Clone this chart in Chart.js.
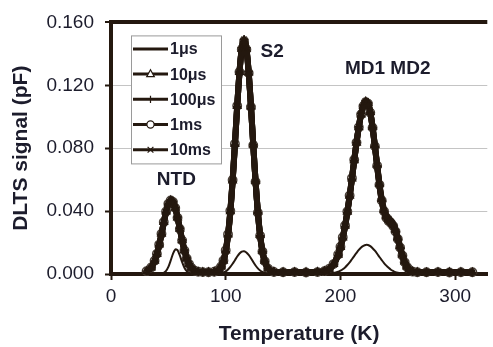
<!DOCTYPE html>
<html>
<head>
<meta charset="utf-8">
<script src="https://cdn.jsdelivr.net/npm/chart.js@4/dist/chart.umd.min.js"></script>
<style>
  html, body { margin: 0; padding: 0; background: #ffffff; }
  #wrap { position: relative; width: 493px; height: 347px; }
</style>
</head>
<body>
<div id="wrap"><canvas id="c"></canvas></div>
<script>
// ---- data ----
const temps = [31,35,38,40,42,44,46,48,50,52,54,56,58,60,62,64,66,68,70,73,76,80,85,90,94,96,98,100,102,104,106,108,110,112,114,116,118,120,122,124,126,128,130,132,134,137,142,150,160,170,180,186,190,194,198,200,202,204,206,208,210,212,214,216,218,220,222,224,226,228,230,232,234,236,238,240,242,244,246,248,250,252,254,256,258,260,263,267,275,285,295,305,315];

const seriesNames = ["1\u03bcs", "10\u03bcs", "100\u03bcs", "1ms", "10ms"];

const s1us = [0,0,0,0,0,0,.0008,.0020,.0045,.0085,
  .0128,.0156,.0152,.0118,.0075,.0040,.0018,.0007,.0002,0,
  0,0,0,0,.0001,.0005,.0010,.0017,.0029,.0045,
  .0065,.0088,.0111,.0130,.0142,.0145,.0137,.0121,.0100,.0076,
  .0054,.0036,.0022,.0013,.0007,.0002,0,0,0,0,
  0,.0001,.0002,.0006,.0014,.0021,.0030,.0042,.0057,.0074,
  .0094,.0114,.0134,.0153,.0169,.0179,.0185,.0184,.0177,.0164,
  .0148,.0129,.0108,.0088,.0069,.0053,.0039,.0027,.0019,.0012,
  .0008,.0005,.0003,.0002,.0001,0,0,0,0,0,
  0,0,0];

const s10us = [.0017,.0041,.0083,.0127,.0186,.0255,.0329,.0396,.0447,.0468,
  .0459,.0420,.0358,.0287,.0214,.0150,.0100,.0063,.0039,.0020,
  .0013,.0011,.0012,.0014,.0027,.0047,.0084,.0148,.0250,.0398,
  .0594,.0826,.1068,.1283,.1432,.1484,.1431,.1281,.1065,.0823,
  .0592,.0397,.0249,.0147,.0083,.0035,.0014,.0011,.0012,.0011,
  .0013,.0018,.0031,.0062,.0122,.0170,.0231,.0306,.0395,.0496,
  .0607,.0723,.0834,.0932,.1014,.1068,.1095,.1086,.1030,.0936,
  .0820,.0695,.0575,.0478,.0410,.0371,.0350,.0338,.0318,.0283,
  .0233,.0177,.0123,.0079,.0047,.0028,.0015,.0011,.0010,.0012,
  .0011,.0011,.0010];

const s100us = [.0019,.0039,.0080,.0124,.0181,.0250,.0324,.0392,.0444,.0470,
  .0462,.0425,.0363,.0291,.0218,.0153,.0102,.0065,.0041,.0021,
  .0014,.0011,.0011,.0013,.0025,.0044,.0079,.0142,.0242,.0390,
  .0586,.0819,.1064,.1285,.1438,.1493,.1438,.1287,.1068,.0823,
  .0588,.0391,.0243,.0142,.0080,.0033,.0013,.0010,.0011,.0010,
  .0012,.0016,.0029,.0059,.0118,.0166,.0226,.0300,.0389,.0490,
  .0603,.0721,.0836,.0937,.1021,.1075,.1100,.1089,.1029,.0930,
  .0811,.0683,.0561,.0462,.0393,.0352,.0331,.0319,.0299,.0265,
  .0217,.0163,.0113,.0071,.0042,.0025,.0014,.0011,.0010,.0011,
  .0010,.0011,.0010];

const s1ms = [.0018,.0042,.0084,.0128,.0187,.0256,.0330,.0397,.0446,.0467,
  .0458,.0419,.0357,.0286,.0213,.0150,.0099,.0063,.0039,.0021,
  .0014,.0012,.0011,.0014,.0028,.0048,.0086,.0151,.0253,.0402,
  .0598,.0829,.1070,.1284,.1430,.1480,.1428,.1278,.1062,.0819,
  .0586,.0390,.0243,.0143,.0081,.0034,.0013,.0011,.0012,.0010,
  .0012,.0018,.0032,.0063,.0124,.0173,.0234,.0309,.0398,.0499,
  .0610,.0726,.0837,.0934,.1015,.1067,.1092,.1083,.1026,.0930,
  .0813,.0688,.0567,.0468,.0399,.0358,.0337,.0325,.0305,.0271,
  .0222,.0168,.0117,.0074,.0044,.0027,.0015,.0011,.0011,.0012,
  .0010,.0011,.0011];

const s10ms = [.0018,.0040,.0081,.0125,.0183,.0252,.0326,.0394,.0445,.0469,
  .0461,.0423,.0361,.0289,.0216,.0152,.0101,.0064,.0040,.0021,
  .0014,.0011,.0011,.0013,.0026,.0045,.0081,.0144,.0245,.0393,
  .0589,.0822,.1066,.1284,.1435,.1490,.1435,.1284,.1066,.0822,
  .0589,.0393,.0245,.0144,.0081,.0034,.0013,.0010,.0012,.0010,
  .0012,.0017,.0030,.0060,.0120,.0168,.0228,.0303,.0392,.0493,
  .0605,.0722,.0835,.0935,.1018,.1072,.1098,.1088,.1030,.0933,
  .0815,.0688,.0566,.0466,.0396,.0355,.0334,.0322,.0302,.0268,
  .0220,.0166,.0115,.0073,.0043,.0026,.0014,.0011,.0010,.0012,
  .0010,.0011,.0010];

const xTickValues = [0, 100, 200, 300];
const yTickValues = [0, 0.04, 0.08, 0.12, 0.16];

const peakLabels = ["NTD", "S2", "MD1 MD2"];
const peakLabelT = [57, 140.4, 241.2];
const peakLabelY = [0.0602, 0.1414, 0.1305];

// ---- styling ----
const INK = '#24180f';
const TEXT = '#1c1c2c';
const FONT = '"Liberation Sans", Arial, Helvetica, sans-serif';
Chart.defaults.font.family = FONT;
Chart.defaults.color = TEXT;

const pointStyles = [false, 'triangle', 'cross', 'circle', 'crossRot'];
const allSeries = [s1us, s10us, s100us, s1ms, s10ms];

const datasets = allSeries.map((vals, k) => ({
  label: seriesNames[k],
  data: temps.map((t, i) => ({ x: t, y: vals[i] })),
  borderColor: INK,
  backgroundColor: 'rgba(0,0,0,0)',
  borderWidth: k === 0 ? 2 : 6,
  pointStyle: pointStyles[k],
  pointRadius: k === 0 ? 0 : 4.2,
  pointBorderWidth: 1.5,
  pointBorderColor: k === 3 ? '#4a4038' : INK,
  pointBackgroundColor: 'rgba(255,255,255,0)',
  tension: 0.25,
  fill: false,
  clip: false
}));

const annotationPlugin = {
  id: 'peakLabels',
  afterDatasetsDraw(chart) {
    const ctx = chart.ctx, xs = chart.scales.x, ys = chart.scales.y;
    ctx.save();
    ctx.font = 'bold 19px ' + FONT;
    ctx.fillStyle = TEXT;
    ctx.textAlign = 'center';
    ctx.textBaseline = 'middle';
    peakLabels.forEach((lab, i) => {
      ctx.fillText(lab, xs.getPixelForValue(peakLabelT[i]), ys.getPixelForValue(peakLabelY[i]));
    });
    ctx.restore();
  }
};

function drawMarker(ctx, style, x, y, r) {
  ctx.beginPath();
  if (style === 'triangle') {
    ctx.moveTo(x, y - r * 1.2);
    ctx.lineTo(x + r * 1.05, y + r * 0.7);
    ctx.lineTo(x - r * 1.05, y + r * 0.7);
    ctx.closePath();
    ctx.fillStyle = '#ffffff'; ctx.fill();
  } else if (style === 'cross') {
    ctx.moveTo(x, y - r); ctx.lineTo(x, y + r);
    ctx.moveTo(x - r, y); ctx.lineTo(x + r, y);
  } else if (style === 'circle') {
    ctx.arc(x, y, r, 0, Math.PI * 2);
    ctx.fillStyle = '#ffffff'; ctx.fill();
  } else if (style === 'crossRot') {
    const d = r * 0.8;
    ctx.moveTo(x - d, y - d); ctx.lineTo(x + d, y + d);
    ctx.moveTo(x - d, y + d); ctx.lineTo(x + d, y - d);
  }
  ctx.stroke();
}

const legendPlugin = {
  id: 'boxLegend',
  afterDraw(chart) {
    const ctx = chart.ctx, a = chart.chartArea;
    const bx = a.left + 20, by = a.top + 13, bw = 90, bh = 128;
    ctx.save();
    ctx.fillStyle = '#ffffff';
    ctx.fillRect(bx, by, bw, bh);
    ctx.strokeStyle = '#9a9a9a';
    ctx.lineWidth = 1;
    ctx.strokeRect(bx + 0.5, by + 0.5, bw, bh);
    chart.data.datasets.forEach((ds, i) => {
      const cy = by + 13.5 + i * 25.2;
      ctx.strokeStyle = INK;
      ctx.lineWidth = 3;
      ctx.beginPath();
      ctx.moveTo(bx + 2, cy); ctx.lineTo(bx + 37, cy);
      ctx.stroke();
      if (ds.pointStyle) {
        ctx.lineWidth = 1.2;
        drawMarker(ctx, ds.pointStyle, bx + 19.5, cy, 3.6);
      }
      ctx.fillStyle = TEXT;
      ctx.font = 'bold 16px ' + FONT;
      ctx.textAlign = 'left';
      ctx.textBaseline = 'middle';
      ctx.fillText(ds.label, bx + 39, cy + 1);
    });
    ctx.restore();
  }
};

new Chart(document.getElementById('c'), {
  type: 'line',
  data: { datasets },
  options: {
    responsive: true,
    maintainAspectRatio: false,
    animation: false,
    events: [],
    layout: { padding: { top: 16, right: 0, left: 0, bottom: 0 } },
    plugins: { legend: { display: false }, tooltip: { enabled: false } },
    scales: {
      x: {
        type: 'linear',
        min: 0,
        max: 328,
        afterBuildTicks(scale) { scale.ticks = xTickValues.map(v => ({ value: v })); },
        afterFit(scale) { scale.height = 73; },
        ticks: { font: { size: 19 }, color: TEXT, padding: 5, maxRotation: 0, callback: v => String(v) },
        grid: { drawOnChartArea: false, drawTicks: true, tickLength: 6, tickColor: INK, tickWidth: 2 },
        border: { display: true, color: INK, width: 4 },
        title: { display: true, text: 'Temperature (K)', color: TEXT, font: { size: 21, weight: 'bold' }, padding: { top: 0, bottom: 0 } }
      },
      y: {
        min: 0,
        max: 0.16,
        afterBuildTicks(scale) { scale.ticks = yTickValues.map(v => ({ value: v })); },
        afterFit(scale) { scale.width = 111; },
        ticks: { font: { size: 19 }, color: TEXT, padding: 11, callback: v => Number(v).toFixed(3) },
        grid: {
          color: c => (c.tick && Math.abs(c.tick.value - 0.16) < 1e-9) ? INK : (c.tick && c.tick.value === 0 ? 'rgba(0,0,0,0)' : '#c4c4c4'),
          lineWidth: c => (c.tick && Math.abs(c.tick.value - 0.16) < 1e-9) ? 4 : 1,
          drawTicks: true, tickLength: 6, tickColor: INK, tickWidth: 2
        },
        border: { display: true, color: INK, width: 4 },
        title: { display: true, text: 'DLTS signal (pF)', color: TEXT, font: { size: 21, weight: 'bold' }, padding: { top: 9, bottom: 0 } }
      }
    }
  },
  plugins: [annotationPlugin, legendPlugin]
});
</script>
</body>
</html>
